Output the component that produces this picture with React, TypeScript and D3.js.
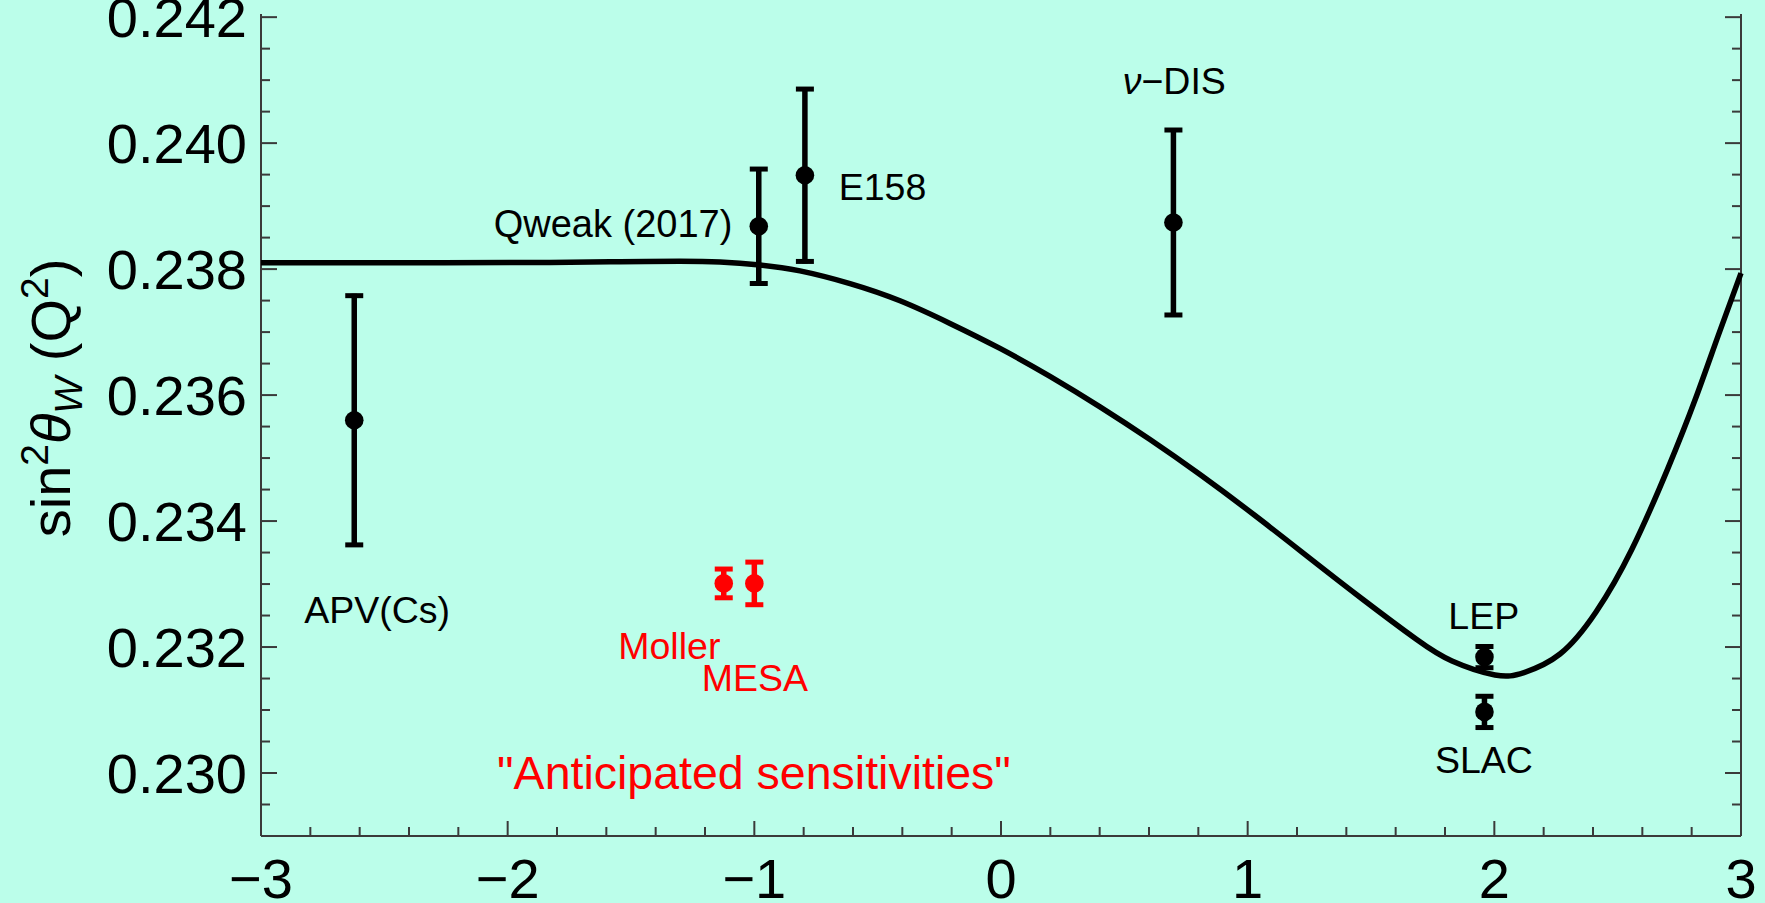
import React from "react";
import * as d3 from "d3";

// ---- data ----
const xTickValues = [-3, -2, -1, 0, 1, 2, 3];
const yTickValues = [0.23, 0.232, 0.234, 0.236, 0.238, 0.24, 0.242];

const expNames = ["APV(Cs)", "Qweak (2017)", "E158", "ν-DIS", "LEP", "SLAC"];
const expX = [-2.622, -0.982, -0.795, 0.699, 1.96, 1.96];
const expY = [0.2356, 0.23868, 0.23949, 0.23874, 0.23184, 0.23097];
const expErr = [0.00201, 0.00094, 0.0014, 0.0015, 0.0002, 0.00028];

const futNames = ["Moller", "MESA"];
const futX = [-1.124, -1.0];
const futY = [0.23301, 0.23301];
const futErr = [0.00026, 0.00037];

const curveX = [
  -3.0, -2.4365, -1.8284, -1.5446, -1.3014, -1.1392, -0.977, -0.8149, -0.6122, -0.4095,
  -0.2068, -0.0041, 0.1986, 0.4013, 0.604, 0.8068, 1.0257, 1.2446, 1.4635, 1.6824,
  1.8284, 2.0027, 2.1203, 2.2662, 2.4122, 2.5581, 2.7041, 2.8135, 2.9068, 3.0,
];
const curveY = [
  0.2381, 0.2381, 0.238106, 0.238118, 0.238124, 0.238112, 0.238065, 0.237972, 0.23777, 0.237497,
  0.237138, 0.236741, 0.236297, 0.235813, 0.235294, 0.234738, 0.2341, 0.233432, 0.232767, 0.232127,
  0.231778, 0.231556, 0.231595, 0.231889, 0.232556, 0.233556, 0.234841, 0.235921, 0.236937, 0.237937,
];

// annotation placements (data coordinates)
const labelText = ["APV(Cs)", "Qweak (2017)", "E158", "DIS", "LEP", "SLAC", "Moller", "MESA", "\"Anticipated sensitivities\""];
const labelX = [-2.529, -1.089, -0.658, 0.4934, 1.957, 1.958, -1.5515, -1.2134, -1.0014];
const labelY = [0.232386, 0.238503, 0.239095, 0.240773, 0.232281, 0.229995, 0.231805, 0.231306, 0.229746];
const labelAnchor = ["middle", "end", "start", "start", "middle", "middle", "start", "start", "middle"];
const labelColor = ["#000", "#000", "#000", "#000", "#000", "#000", "#ff0000", "#ff0000", "#ff0000"];
const labelSize = [37.5, 38, 37.5, 37.5, 37.5, 37.5, 37.5, 37.5, 46.5];

const W = 1765;
const H = 903;
const FONT = "'Liberation Sans', Arial, Helvetica, sans-serif";
const BG = "#bbfeea";
const AXIS = "#3a3a3a";

function ErrorBar({ cx, cy, top, bottom, color }: any) {
  const cap = 9;
  return (
    <g>
      <line x1={cx} x2={cx} y1={top} y2={bottom} stroke={color} strokeWidth={5.5} />
      <line x1={cx - cap} x2={cx + cap} y1={top + 2} y2={top + 2} stroke={color} strokeWidth={5} />
      <line x1={cx - cap} x2={cx + cap} y1={bottom - 2} y2={bottom - 2} stroke={color} strokeWidth={5} />
      <circle cx={cx} cy={cy} r={9.3} fill={color} />
    </g>
  );
}

export default function App() {
  const x = d3.scaleLinear().domain([-3, 3]).range([261, 1741]);
  const y = d3.scaleLinear().domain([0.229, 0.24205]).range([836, 14]);

  const xMinor = d3.range(-3, 3.0001, 0.2).filter((v) => Math.abs(v - Math.round(v)) > 1e-6);
  const yAll = d3.range(0.229, 0.24206, 0.0005);
  const yMinor = yAll.filter((v) => Math.abs(v * 500 - Math.round(v * 500)) > 1e-6);

  const curve = curveX.map((v, i) => [v, curveY[i]] as [number, number]);
  const line = d3
    .line<[number, number]>()
    .x((d) => x(d[0]))
    .y((d) => y(d[1]))
    .curve(d3.curveNatural);

  const x0 = x(-3);
  const x1 = x(3);
  const yb = y(0.229);
  const yt = y(0.24205);

  return (
    <svg
      width={W}
      height={H}
      style={{ position: "absolute", left: 0, top: 0, display: "block" }}
      fontFamily={FONT}
    >
      <rect x={0} y={0} width={W} height={H} fill={BG} />

      {/* axes */}
      <line x1={x0} x2={x0} y1={yt} y2={yb} stroke={AXIS} strokeWidth={2} />
      <line x1={x1} x2={x1} y1={yt} y2={yb} stroke={AXIS} strokeWidth={2} />
      <line x1={x0} x2={x1} y1={yb} y2={yb} stroke={AXIS} strokeWidth={2} />

      {/* y ticks (left and right) */}
      {yTickValues.map((v) => (
        <g key={"yt" + v}>
          <line x1={x0} x2={x0 + 16} y1={y(v)} y2={y(v)} stroke={AXIS} strokeWidth={2} />
          <line x1={x1} x2={x1 - 16} y1={y(v)} y2={y(v)} stroke={AXIS} strokeWidth={2} />
          <text x={247} y={y(v) + 20} textAnchor="end" fontSize={56} fill="#000">
            {d3.format(".3f")(v)}
          </text>
        </g>
      ))}
      {yMinor.map((v) => (
        <g key={"ym" + v}>
          <line x1={x0} x2={x0 + 9} y1={y(v)} y2={y(v)} stroke={AXIS} strokeWidth={2} />
          <line x1={x1} x2={x1 - 9} y1={y(v)} y2={y(v)} stroke={AXIS} strokeWidth={2} />
        </g>
      ))}

      {/* x ticks */}
      {xTickValues.map((v) => (
        <g key={"xt" + v}>
          <line x1={x(v)} x2={x(v)} y1={yb} y2={yb - 15} stroke={AXIS} strokeWidth={2} />
          <text x={x(v)} y={898} textAnchor="middle" fontSize={56} fill="#000">
            {v < 0 ? "\u2212" + Math.abs(v) : String(v)}
          </text>
        </g>
      ))}
      {xMinor.map((v) => (
        <line key={"xm" + v} x1={x(v)} x2={x(v)} y1={yb} y2={yb - 9} stroke={AXIS} strokeWidth={2} />
      ))}

      {/* y title */}
      <text
        transform={`translate(70, 398) rotate(-90)`}
        textAnchor="middle"
        fontSize={56}
        fill="#000"
      >
        <tspan>sin</tspan>
        <tspan fontSize={39} dy={-22}>2</tspan>
        <tspan fontStyle="italic" dy={22}>θ</tspan>
        <tspan fontStyle="italic" fontSize={39} dy={12}>W</tspan>
        <tspan dy={-12}> (Q</tspan>
        <tspan fontSize={39} dy={-22}>2</tspan>
        <tspan dy={22}>)</tspan>
      </text>

      {/* theory curve */}
      <path d={line(curve) || ""} fill="none" stroke="#000" strokeWidth={5.5} strokeLinejoin="round" />

      {/* measured points */}
      {expNames.map((n, i) => (
        <ErrorBar
          key={n}
          cx={x(expX[i])}
          cy={y(expY[i])}
          top={y(expY[i] + expErr[i])}
          bottom={y(expY[i] - expErr[i])}
          color="#000"
        />
      ))}

      {/* anticipated points */}
      {futNames.map((n, i) => (
        <ErrorBar
          key={n}
          cx={x(futX[i])}
          cy={y(futY[i])}
          top={y(futY[i] + futErr[i])}
          bottom={y(futY[i] - futErr[i])}
          color="#ff0000"
        />
      ))}

      {/* labels */}
      {labelText.map((t, i) => (
        <text
          key={"lab" + i}
          x={x(labelX[i])}
          y={y(labelY[i])}
          textAnchor={labelAnchor[i] as any}
          fontSize={labelSize[i]}
          fill={labelColor[i]}
        >
          {t === "DIS" ? (
            <>
              <tspan fontStyle="italic">ν</tspan>
              <tspan>{"\u2212DIS"}</tspan>
            </>
          ) : (
            t
          )}
        </text>
      ))}
    </svg>
  );
}
